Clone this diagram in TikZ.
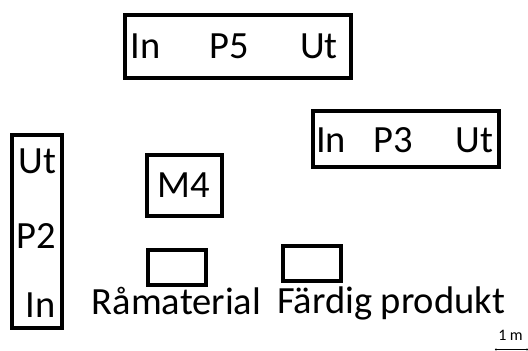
\documentclass[tikz,border=0pt]{standalone}
\usepackage{fontspec}
\setmainfont{Carlito}
\usepackage{tikz}
\usetikzlibrary{positioning}

\begin{document}
\begin{tikzpicture}[x=1pt, y=-1pt,
    box/.style={draw=black, line width=3.5pt, inner sep=0pt},
    lbl/.style={anchor=base, inner sep=0pt, font=\fontsize{38.5}{41}\selectfont},
    small/.style={anchor=base, inner sep=0pt, font=\fontsize{16}{18}\selectfont}]
  \useasboundingbox (0,0) rectangle (528,351);
  % stations
  \node[box, minimum width=226pt, minimum height=63pt] (p5) at (238,46.5) {};
  \node[box, minimum width=186pt, minimum height=56pt] (p3) at (406,139) {};
  \node[box, minimum width=50pt, minimum height=193pt] (p2) at (37,231.5) {};
  \node[box, minimum width=75pt, minimum height=61pt] (m4) at (184.5,185.5) {};
  \node[box, minimum width=58pt, minimum height=35pt] (rm) at (177,267.5) {};
  \node[box, minimum width=58pt, minimum height=35pt] (fp) at (312,263.5) {};
  % texts
  \node[lbl] (p5in) at (145.5,58) {In};
  \node[lbl] (p5name) at (229.5,58) {P5};
  \node[lbl] (p5ut) at (319,58) {Ut};
  \node[lbl] (p3in) at (331,152) {In};
  \node[lbl] (p3name) at (393,152) {P3};
  \node[lbl] (p3ut) at (474.5,152) {Ut};
  \node[lbl] (p2ut) at (37.5,173) {Ut};
  \node[lbl] (p2name) at (36,248) {P2};
  \node[lbl] (p2in) at (40.5,317) {In};
  \node[lbl] (m4name) at (184,197) {M4};
  \node[lbl] (rmtext) at (176.5,314) {Råmaterial};
  \node[lbl] (fptext) at (391,313) {Färdig produkt};
  % scale
  \coordinate (sa) at (496,349.5);
  \coordinate (sb) at (527,349.5);
  \draw[line width=1pt] (sa) -- (sb);
  \fill (sa) circle (1.2pt) (sb) circle (1.2pt);
  \node[small] (scale) at (510.5,340) {1 m};
\end{tikzpicture}
\end{document}
